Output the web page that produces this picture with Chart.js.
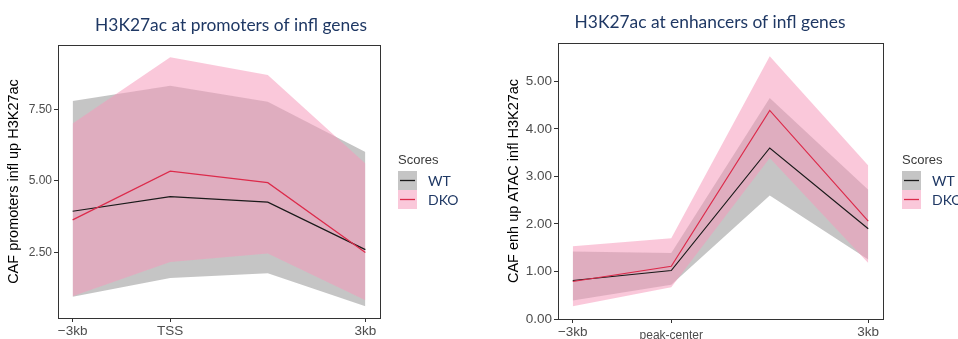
<!DOCTYPE html>
<html>
<head>
<meta charset="utf-8">
<script src="https://cdn.jsdelivr.net/npm/chart.js@4/dist/chart.umd.min.js"></script>
<style>
  html, body { margin: 0; padding: 0; background: #fff; }
  body { width: 958px; height: 339px; position: relative; overflow: hidden; }
  .box { position: absolute; top: 0; width: 479px; height: 339px; }
  canvas { display: block; }
</style>
</head>
<body>
<div class="box" style="left:0"><canvas id="c1" width="479" height="339"></canvas></div>
<div class="box" style="left:479px"><canvas id="c2" width="479" height="339"></canvas></div>
<script>
// ---------- data ----------
const xPositions = [0, 1, 2, 3];
const seriesNames = ['WT', 'DKO'];
const legendTitle = 'Scores';

// Promoters chart
const promTitle = 'H3K27ac at promoters of infl genes';
const promYLabel = 'CAF promoters infl up H3K27ac';
const promXTickValues = [0, 1, 3];
const promXTickLabels = ['\u22123kb', 'TSS', '3kb'];
const promYTicks = [2.5, 5.0, 7.5];
const promWT = [3.94, 4.45, 4.26, 2.60];
const promWTLow = [0.95, 1.61, 1.77, 0.62];
const promWTHigh = [7.79, 8.33, 7.77, 6.01];
const promDKO = [3.64, 5.34, 4.94, 2.50];
const promDKOLow = [0.97, 2.17, 2.46, 0.83];
const promDKOHigh = [7.01, 9.32, 8.70, 5.61];

// Enhancers chart
const enhTitle = 'H3K27ac at enhancers of infl genes';
const enhYLabel = 'CAF enh up ATAC infl H3K27ac';
const enhXTickValues = [0, 1, 3];
const enhXTickLabels = ['\u22123kb', 'peak-center', '3kb'];
const enhYTicks = [0, 1, 2, 3, 4, 5];
const enhWT = [0.81, 1.02, 3.60, 1.90];
const enhWTLow = [0.39, 0.72, 2.60, 1.25];
const enhWTHigh = [1.42, 1.39, 4.65, 2.72];
const enhDKO = [0.79, 1.11, 4.39, 2.06];
const enhDKOLow = [0.27, 0.67, 3.39, 1.18];
const enhDKOHigh = [1.53, 1.70, 5.53, 3.23];

// ---------- styles ----------
const GREY_FILL = 'rgba(140,140,140,0.5)';
const PINK_FILL = 'rgba(246,155,188,0.55)';
const WT_LINE = '#1a1a1a';
const DKO_LINE = '#dc2b4b';
const AXIS_COL = '#333333';
const TICK_COL = '#4d4d4d';
const NAVY = '#1f3864';
const SANS = '"Liberation Sans", Arial, sans-serif';

function pts(arr) { return arr.map((v, i) => ({x: xPositions[i], y: v})); }

function makeChart(id, o) {
  const datasets = [
    {data: pts(o.wtLow), borderWidth: 0, pointRadius: 0, fill: false, order: 5},
    {data: pts(o.wtHigh), borderWidth: 0, pointRadius: 0, fill: '-1', backgroundColor: GREY_FILL, order: 4},
    {data: pts(o.dkoLow), borderWidth: 0, pointRadius: 0, fill: false, order: 3},
    {data: pts(o.dkoHigh), borderWidth: 0, pointRadius: 0, fill: '-1', backgroundColor: PINK_FILL, order: 2},
    {label: seriesNames[0], data: pts(o.wt), borderColor: WT_LINE, borderWidth: 1.2, pointRadius: 0, fill: false, order: 1},
    {label: seriesNames[1], data: pts(o.dko), borderColor: DKO_LINE, borderWidth: 1.2, pointRadius: 0, fill: false, order: 0}
  ];
  const deco = {
    id: 'deco' + id,
    afterDraw(chart) {
      const ctx = chart.ctx, a = chart.chartArea;
      ctx.save();
      ctx.strokeStyle = AXIS_COL; ctx.lineWidth = 1;
      ctx.strokeRect(Math.round(a.left) + 0.5, Math.round(a.top) + 0.5,
                     Math.round(a.right - a.left), Math.round(a.bottom - a.top));
      // title, fitted to width
      ctx.fillStyle = NAVY;
      ctx.font = '100px Lato, "Open Sans", sans-serif';
      const w100 = ctx.measureText(o.title).width;
      const fs = 100 * o.titleWidth / w100;
      ctx.font = fs.toFixed(2) + 'px Lato, "Open Sans", sans-serif';
      ctx.textAlign = 'center'; ctx.textBaseline = 'middle';
      ctx.fillText(o.title, o.titleX, o.titleY);
      // legend
      const L = o.legend;
      ctx.textAlign = 'left';
      ctx.fillStyle = '#3a3a3a';
      ctx.font = '13px ' + SANS;
      ctx.fillText(legendTitle, L.x, L.titleY);
      const keys = [[GREY_FILL, WT_LINE], [PINK_FILL, DKO_LINE]];
      keys.forEach((k, i) => {
        const y = L.keyY + i * 19;
        ctx.fillStyle = k[0];
        ctx.fillRect(L.x, y, 19, 19);
        ctx.strokeStyle = k[1]; ctx.lineWidth = 1.3;
        ctx.beginPath(); ctx.moveTo(L.x + 2, y + 9.5); ctx.lineTo(L.x + 17, y + 9.5); ctx.stroke();
        ctx.fillStyle = NAVY;
        ctx.font = '14px Lato, "Open Sans", sans-serif';
        ctx.fillText(seriesNames[i], L.x + 30, y + 10);
      });
      ctx.restore();
    }
  };
  return new Chart(document.getElementById(id), {
    type: 'line',
    data: {datasets: datasets},
    plugins: [deco],
    options: {
      responsive: false, animation: false,
      layout: {padding: {left: 0, right: o.padRight, top: o.padTop, bottom: 0}},
      plugins: {legend: {display: false}, tooltip: {enabled: false}, title: {display: false}},
      scales: {
        x: {
          type: 'linear', min: -0.15, max: 3.15,
          afterBuildTicks: s => { s.ticks = o.xTickValues.map(v => ({value: v})); },
          afterFit: s => { s.height = o.xHeight; },
          grid: {drawOnChartArea: false, drawTicks: true, tickLength: 4, color: AXIS_COL},
          border: {display: true, color: AXIS_COL, width: 1},
          ticks: {
            color: TICK_COL, padding: 1, maxRotation: 0, autoSkip: false,
            font: c => (c.tick && o.xTickLabels[o.xTickValues.indexOf(c.tick.value)] === 'peak-center')
                  ? {family: SANS, size: 12, lineHeight: 1.9} : {family: SANS, size: 13.5},
            callback: v => o.xTickLabels[o.xTickValues.indexOf(v)]
          }
        },
        y: {
          min: o.yMin, max: o.yMax,
          afterBuildTicks: s => { s.ticks = o.yTicks.map(v => ({value: v})); },
          afterFit: s => { s.width = o.yWidth; },
          grid: {drawOnChartArea: false, drawTicks: true, tickLength: 4, color: AXIS_COL},
          border: {display: true, color: AXIS_COL, width: 1},
          ticks: {color: TICK_COL, padding: 2, font: {family: SANS, size: o.yTickSize},
                  callback: v => Number(v).toFixed(2)},
          title: {display: true, text: o.yLabel, color: '#000', font: {family: SANS, size: 14.5},
                  padding: {top: o.yTitlePad, bottom: 0}}
        }
      }
    }
  });
}

makeChart('c1', {
  title: promTitle, titleWidth: 272, titleX: 231, titleY: 25,
  yLabel: promYLabel, yTitlePad: 5.5, yTickSize: 12,
  wt: promWT, wtLow: promWTLow, wtHigh: promWTHigh,
  dko: promDKO, dkoLow: promDKOLow, dkoHigh: promDKOHigh,
  xTickValues: promXTickValues, xTickLabels: promXTickLabels, yTicks: promYTicks,
  yMin: 0.21, yMax: 9.75, padTop: 45, padRight: 99, yWidth: 58, xHeight: 21,
  legend: {x: 398, titleY: 160, keyY: 171}
});

makeChart('c2', {
  title: enhTitle, titleWidth: 271, titleX: 231, titleY: 22,
  yLabel: enhYLabel, yTitlePad: 26, yTickSize: 13.5,
  wt: enhWT, wtLow: enhWTLow, wtHigh: enhWTHigh,
  dko: enhDKO, dkoLow: enhDKOLow, dkoHigh: enhDKOHigh,
  xTickValues: enhXTickValues, xTickLabels: enhXTickLabels, yTicks: enhYTicks,
  yMin: 0, yMax: 5.81, padTop: 43, padRight: 75, yWidth: 79, xHeight: 20,
  legend: {x: 423, titleY: 160, keyY: 171}
});
</script>
</body>
</html>
